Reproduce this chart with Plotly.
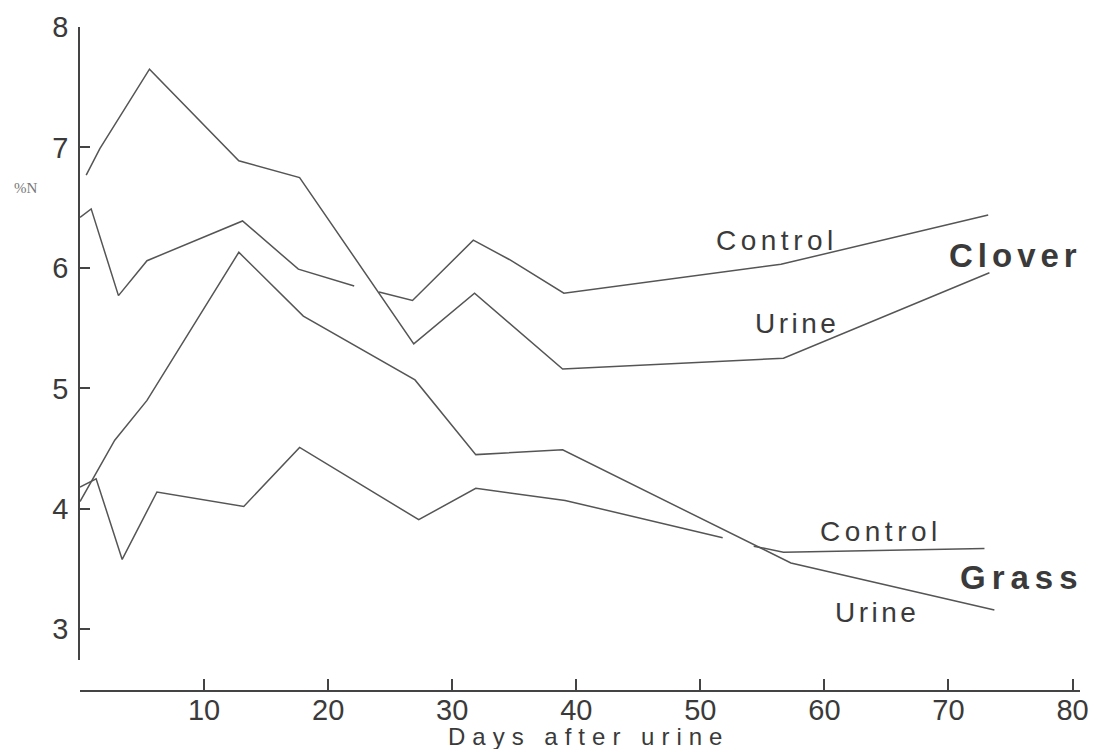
import plotly.graph_objects as go

# Nitrogen content (% N) of herbage after a urine application
clover_control_days = [0, 0.9, 3.1, 5.4, 13.1, 17.6, 22.1, 23.0, 24.1, 26.8, 31.7, 34.6, 39.0, 56.5, 73.2]
clover_control_pct = [6.42, 6.49, 5.77, 6.06, 6.39, 5.99, 5.85, None, 5.80, 5.73, 6.23, 6.07, 5.79, 6.03, 6.44]

clover_urine_days = [0.5, 1.6, 5.6, 12.8, 17.7, 26.9, 31.8, 38.9, 56.7, 73.3]
clover_urine_pct = [6.77, 6.99, 7.65, 6.89, 6.75, 5.37, 5.79, 5.16, 5.25, 5.96]

grass_control_days = [0, 1.3, 3.4, 6.2, 13.2, 17.7, 27.3, 31.9, 39.1, 51.8, 53.0, 54.3, 56.7, 72.9]
grass_control_pct = [4.18, 4.25, 3.58, 4.14, 4.02, 4.51, 3.91, 4.17, 4.07, 3.76, None, 3.69, 3.64, 3.67]

grass_urine_days = [0, 2.8, 5.4, 12.8, 18.0, 27.0, 31.9, 38.9, 57.3, 73.7]
grass_urine_pct = [4.06, 4.57, 4.90, 6.13, 5.60, 5.07, 4.45, 4.49, 3.55, 3.16]

x_ticks = [0, 10, 20, 30, 40, 50, 60, 70, 80]
x_tick_labels = ["", "10", "20", "30", "40", "50", "60", "70", "80"]
y_ticks = [3, 4, 5, 6, 7, 8]
y_tick_labels = ["3", "4", "5", "6", "7", "8"]

INK = "#3a3a3a"
LINE = "#555555"
FONT = "Liberation Sans, Arial, sans-serif"


def spaced(text, px):
    return f'<span style="letter-spacing:{px}px">{text}</span>'


fig = go.Figure()
for days, pct in [
    (clover_control_days, clover_control_pct),
    (clover_urine_days, clover_urine_pct),
    (grass_control_days, grass_control_pct),
    (grass_urine_days, grass_urine_pct),
]:
    fig.add_trace(go.Scatter(
        x=days, y=pct, mode="lines", connectgaps=False,
        line=dict(color=LINE, width=1.5), showlegend=False, hoverinfo="skip",
    ))

labels = [
    # text, day, %N, size, spacing, bold
    ("Control", 56.2, 6.23, 28, 4.5, False),
    ("Urine", 57.8, 5.54, 28, 3.5, False),
    ("Clover", 75.4, 6.10, 33, 5, True),
    ("Control", 64.6, 3.81, 28, 4.5, False),
    ("Grass", 75.9, 3.43, 33, 6, True),
    ("Urine", 64.2, 3.14, 28, 3.5, False),
]
for text, d, v, size, ls, bold in labels:
    t = spaced(text, ls)
    if bold:
        t = f"<b>{t}</b>"
    fig.add_annotation(
        x=d, y=v, xref="x", yref="y", text=t, showarrow=False,
        font=dict(family=FONT, size=size, color=INK),
        xanchor="center", yanchor="middle",
    )

fig.add_annotation(
    x=-0.0545, y=6.66, xref="paper", yref="y", text="%N", showarrow=False,
    font=dict(family="Liberation Serif, serif", size=15, color="#777777"),
    xanchor="center", yanchor="middle",
)
fig.add_annotation(
    x=41.0, y=-0.069, xref="x", yref="paper", text=spaced("Days after urine", 7),
    showarrow=False, font=dict(family=FONT, size=24, color=INK),
    xanchor="center", yanchor="middle",
)

axis_common = dict(
    showline=True, linecolor="#444444", linewidth=1.6,
    ticks="inside", tickcolor="#444444", tickwidth=1.5,
    showgrid=False, zeroline=False,
    tickfont=dict(family=FONT, size=29, color=INK),
)
fig.update_layout(
    width=1100, height=749,
    margin=dict(l=80, r=11, t=24, b=58),
    paper_bgcolor="white", plot_bgcolor="white",
    xaxis=dict(
        range=[0, 80.6], anchor="free", position=0,
        tickmode="array", tickvals=x_ticks, ticktext=x_tick_labels, ticklen=11,
        ticklabelstandoff=-7,
        **axis_common,
    ),
    yaxis=dict(
        range=[2.744, 8], domain=[0.0465, 1], anchor="x",
        tickmode="array", tickvals=y_ticks, ticktext=y_tick_labels, ticklen=10,
        ticklabelstandoff=4,
        **axis_common,
    ),
)

fig.write_html("out.html")
